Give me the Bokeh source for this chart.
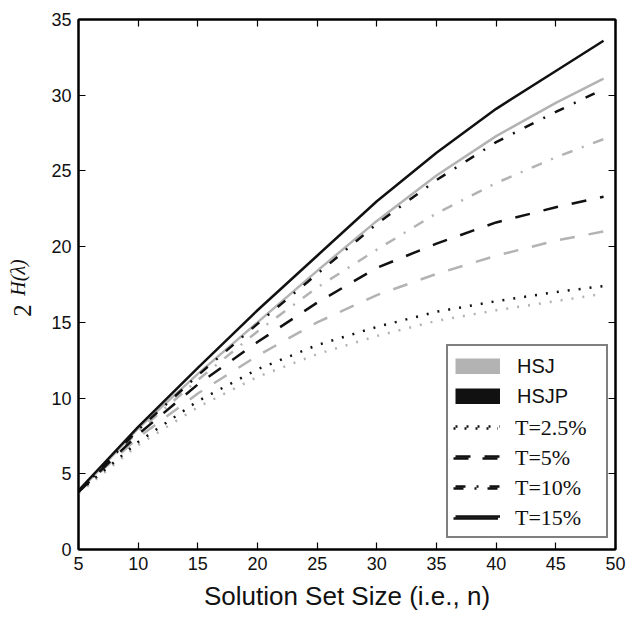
import math
from bokeh.plotting import figure
from bokeh.layouts import row
from bokeh.models import (Range1d, LinearAxis, Legend, LegendItem, Label,
                          FixedTicker)
from bokeh.core.properties import value
from bokeh.embed import file_html
from bokeh.resources import INLINE

# ---- data ----
n = [5, 10, 15, 20, 25, 30, 35, 40, 45, 49]
hsj_t25 = [3.7, 6.9, 9.4, 11.4, 12.9, 14.1, 15.1, 15.8, 16.4, 16.9]
hsj_t5 = [3.8, 7.4, 10.3, 12.8, 15.0, 16.8, 18.2, 19.4, 20.4, 21.0]
hsj_t10 = [3.8, 7.8, 11.2, 14.4, 17.3, 19.8, 22.2, 24.2, 25.9, 27.1]
hsj_t15 = [3.8, 8.0, 11.6, 15.0, 18.4, 21.7, 24.7, 27.3, 29.5, 31.1]
hsjp_t25 = [3.8, 7.1, 9.8, 11.9, 13.5, 14.7, 15.7, 16.4, 17.0, 17.4]
hsjp_t5 = [3.8, 7.6, 10.9, 13.7, 16.3, 18.6, 20.2, 21.6, 22.6, 23.3]
hsjp_t10 = [3.8, 7.9, 11.5, 14.9, 18.2, 21.5, 24.4, 26.9, 28.9, 30.4]
hsjp_t15 = [3.9, 8.1, 12.0, 15.8, 19.4, 23.0, 26.2, 29.1, 31.6, 33.6]

x_ticks = [5, 10, 15, 20, 25, 30, 35, 40, 45, 50]
y_ticks = [0, 5, 10, 15, 20, 25, 30, 35]
t_labels = ["T=2.5%", "T=5%", "T=10%", "T=15%"]
method_labels = ["HSJ", "HSJP"]

GRAY = "#b3b3b3"
BLACK = "#111111"
SANS = "Liberation Sans"
SERIF = "Liberation Serif"

LEFT_W = 40

p = figure(width=626 - LEFT_W, height=624, output_backend="svg", toolbar_location=None,
           x_range=Range1d(5, 50), y_range=Range1d(0, 35),
           min_border_left=78 - LEFT_W, min_border_right=11, min_border_top=19,
           min_border_bottom=75)
p.background_fill_color = "white"
p.border_fill_color = "white"
p.xgrid.visible = False
p.ygrid.visible = False
p.outline_line_color = "black"
p.outline_line_width = 2

def style_axis(ax, ticks, show_labels):
    ax.ticker = FixedTicker(ticks=ticks)
    ax.major_tick_in = 7
    ax.major_tick_out = 0
    ax.minor_tick_line_color = None
    ax.major_tick_line_color = "black"
    ax.major_tick_line_width = 1.2
    ax.axis_line_color = "black"
    ax.axis_line_width = 2
    if show_labels:
        ax.major_label_text_font = SANS
        ax.major_label_text_font_size = "18px"
        ax.major_label_text_color = "#111111"
    else:
        ax.major_label_text_font_size = "1px"
        ax.major_label_text_color = None
        ax.major_label_text_alpha = 0
        ax.major_label_standoff = 0

style_axis(p.xaxis[0], x_ticks, True)
style_axis(p.yaxis[0], y_ticks, True)
p.xaxis[0].major_label_standoff = 7
p.yaxis[0].major_label_standoff = 7
p.xaxis[0].axis_label = "Solution Set Size (i.e., n)"
p.xaxis[0].axis_label_text_font = SANS
p.xaxis[0].axis_label_text_font_style = "normal"
p.xaxis[0].axis_label_text_font_size = "26px"
p.xaxis[0].axis_label_text_color = "#111111"
p.xaxis[0].axis_label_standoff = 8

top_ax = LinearAxis()
right_ax = LinearAxis()
style_axis(top_ax, x_ticks, False)
style_axis(right_ax, y_ticks, False)
p.add_layout(top_ax, "above")
p.add_layout(right_ax, "right")

# ---- curves ----
series = [
    (hsj_t25, GRAY, "2 9"), (hsj_t5, GRAY, "15 14"), (hsj_t10, GRAY, "11 10 2 10"), (hsj_t15, GRAY, "solid"),
    (hsjp_t25, BLACK, "2 9"), (hsjp_t5, BLACK, "15 14"), (hsjp_t10, BLACK, "10 11 2 11"), (hsjp_t15, BLACK, "solid"),
]
renderers = []
for ys, col, dash in series:
    r = p.line(n, ys, line_color=col, line_width=2.5, line_dash=dash)
    renderers.append(r)

# legend swatches: hidden thick-line renderers (drawn only in the legend)
sw_hsj = p.line(n, hsj_t15, line_color=GRAY, line_width=16, line_cap="butt", visible=False)
sw_hsjp = p.line(n, hsjp_t15, line_color=BLACK, line_width=16, line_cap="butt", visible=False)

common = dict(location=(368, 11), margin=0, padding=7, spacing=4,
              label_height=26, label_width=82, glyph_width=45, glyph_height=16,
              label_standoff=17, inactive_fill_alpha=0)

leg1 = Legend(items=[LegendItem(label=value(method_labels[0]), renderers=[sw_hsj]),
                     LegendItem(label=value(method_labels[1]), renderers=[sw_hsjp])] +
                    [LegendItem(label=value(" "), renderers=[renderers[4 + i]]) for i in range(4)],
              border_line_color="black", border_line_width=2.5,
              background_fill_color="white", background_fill_alpha=1,
              label_text_font=SANS, label_text_font_size="20px",
              label_text_color="#111111", **common)
leg2 = Legend(items=[LegendItem(label=value(lbl), renderers=[renderers[4 + i]])
                     for i, lbl in enumerate(t_labels)],
              border_line_alpha=0, background_fill_alpha=0,
              label_text_font=SERIF, label_text_font_size="22px",
              label_text_color="#111111", **common)
p.add_layout(leg1, "center")
p.add_layout(leg2, "center")

# ---- narrow left strip holding the y-axis label 2^{H(lambda)} ----
q = figure(width=LEFT_W, height=624, output_backend="svg", toolbar_location=None,
           x_range=Range1d(0, 1), y_range=Range1d(0, 1),
           min_border_left=0, min_border_right=0, min_border_top=0, min_border_bottom=0)
q.xaxis.visible = False
q.yaxis.visible = False
q.xgrid.visible = False
q.ygrid.visible = False
q.outline_line_color = None
q.background_fill_color = "white"
q.border_fill_color = "white"
q.add_layout(Label(x=22, y=239, x_units="screen", y_units="screen", text="2",
                   angle=math.pi / 2, text_align="center", text_baseline="middle",
                   text_font=SERIF, text_font_size="25px", text_color="#111111"))
q.add_layout(Label(x=17, y=272, x_units="screen", y_units="screen", text="H(λ)",
                   angle=math.pi / 2, text_align="center", text_baseline="middle",
                   text_font=SERIF, text_font_style="italic", text_font_size="20px",
                   text_color="#111111"))

layout = row(q, p, spacing=0)
open("out.html", "w").write(file_html(layout, INLINE))
